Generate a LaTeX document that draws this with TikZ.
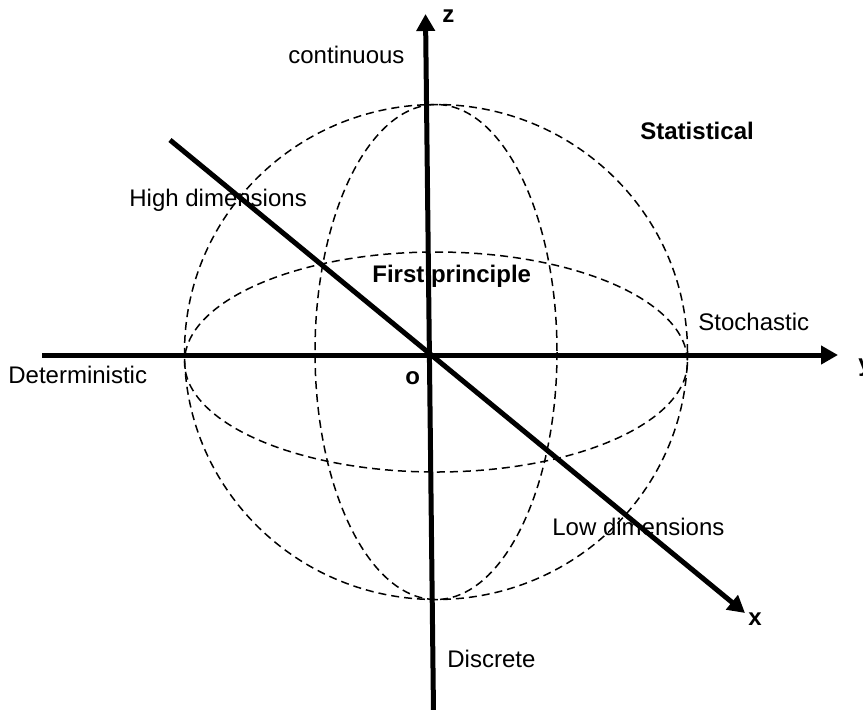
\documentclass[tikz,border=0pt]{standalone}
\usepackage{fontspec}
\setmainfont{Liberation Sans}
\usetikzlibrary{arrows.meta}
\begin{document}
\begin{tikzpicture}[x=0.5pt,y=-0.5pt,
  axis/.style={line width=2.5pt,-{Triangle[length=8.5pt,width=9pt]}},
  guide/.style={line width=0.75pt,dash pattern=on 4pt off 2.5pt},
  lbl/.style={inner sep=0pt,anchor=base west,font=\fontsize{12}{14}\selectfont},
  blbl/.style={inner sep=0pt,anchor=base west,font=\fontsize{12}{14}\selectfont\bfseries}]
\useasboundingbox (0,0) rectangle (863,709);
% sphere guides
\draw[guide] (436,352) ellipse [x radius=251.5, y radius=247.5];
\draw[guide] (436,362) ellipse [x radius=251.5, y radius=110];
\draw[guide] (436,352) ellipse [x radius=121, y radius=247.5];
% labels
\node[blbl] (zlab) at (442,22) {z};
\node[lbl] (cont) at (288,63) {continuous};
\node[blbl] (stat) at (640,139) {Statistical};
\node[lbl] (high) at (129,206) {High dimensions};
\node[blbl] (first) at (372,282) {First principle};
\node[lbl] (stoch) at (698,330) {Stochastic};
\node[lbl] (det) at (8,383) {Deterministic};
\node[blbl] (olab) at (405,384) {o};
\node[blbl] (ylab) at (858,371) {y};
\node[lbl] (low) at (552,535) {Low dimensions};
\node[blbl] (xlab) at (748,625) {x};
\node[lbl] (disc) at (447,667) {Discrete};
% axes
\coordinate (zbot) at (433.5,712);
\coordinate (ztop) at (425.5,14);
\coordinate (yleft) at (42,355);
\coordinate (yright) at (838,355);
\coordinate (xstart) at (170,140);
\coordinate (xend) at (745,613);
\draw[axis] (zbot) -- (ztop);
\draw[axis] (yleft) -- (yright);
\draw[axis] (xstart) -- (xend);
\end{tikzpicture}
\end{document}
